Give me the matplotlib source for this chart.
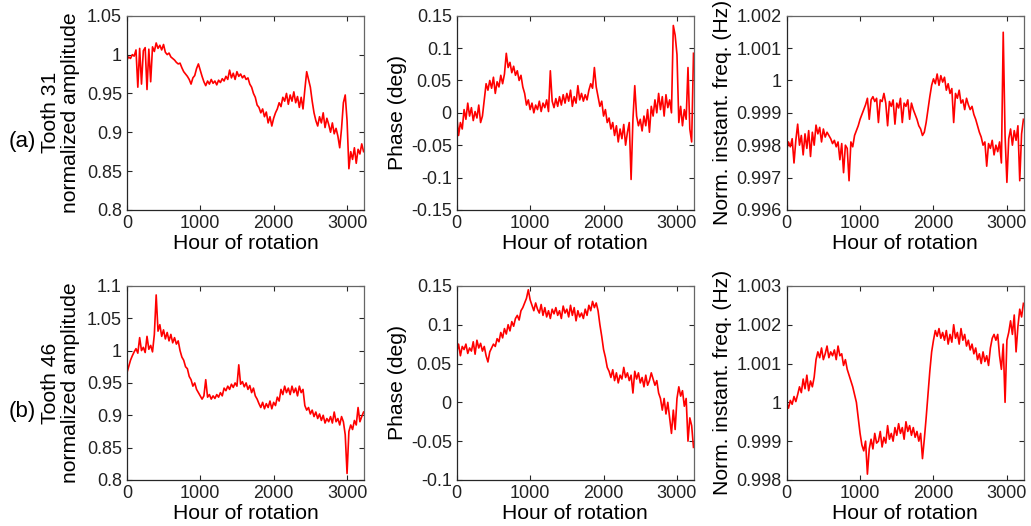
import numpy as np
import matplotlib
matplotlib.use("Agg")
import matplotlib.pyplot as plt
from matplotlib.ticker import FuncFormatter

plt.rcParams['font.family'] = ['Liberation Sans', 'DejaVu Sans']

# sample positions (hours), one value every 25 h
hours = np.arange(0, 3250, 25)

# (a) tooth 31
amp_31 = [0.993, 0.997, 0.995, 1.000, 0.998, 1.006, 0.958, 1.008, 0.962, 1.005,
          1.009, 0.955, 1.007, 0.965, 1.010, 1.004, 1.015, 1.008, 1.012, 1.006,
          1.013, 1.003, 1.000, 1.002, 0.997, 0.995, 0.993, 0.990, 0.988, 0.989,
          0.983, 0.978, 0.975, 0.972, 0.968, 0.962, 0.970, 0.973, 0.982, 0.988,
          0.980, 0.972, 0.965, 0.960, 0.966, 0.962, 0.968, 0.963, 0.966, 0.961,
          0.967, 0.964, 0.969, 0.966, 0.972, 0.968, 0.980, 0.970, 0.976, 0.968,
          0.978, 0.972, 0.975, 0.970, 0.973, 0.968, 0.970, 0.962, 0.958, 0.950,
          0.945, 0.935, 0.932, 0.925, 0.930, 0.920, 0.926, 0.912, 0.920, 0.908,
          0.918, 0.925, 0.930, 0.938, 0.933, 0.945, 0.940, 0.950, 0.936, 0.948,
          0.940, 0.952, 0.938, 0.946, 0.932, 0.945, 0.930, 0.955, 0.978, 0.968,
          0.958, 0.940, 0.925, 0.915, 0.908, 0.920, 0.912, 0.925, 0.906, 0.918,
          0.910, 0.900, 0.912, 0.898, 0.905, 0.895, 0.880, 0.905, 0.938, 0.948,
          0.915, 0.853, 0.875, 0.865, 0.880, 0.860, 0.878, 0.872, 0.885, 0.875]

phase_31 = [-0.005, -0.035, -0.015, -0.025, 0.005, -0.010, 0.015, -0.005, 0.008, -0.012,
            0.002, -0.008, 0.012, -0.015, -0.005, 0.020, 0.045, 0.035, 0.050, 0.038,
            0.055, 0.030, 0.048, 0.040, 0.058, 0.045, 0.060, 0.092, 0.070, 0.078,
            0.062, 0.072, 0.058, 0.065, 0.050, 0.058, 0.040, 0.030, 0.012, 0.020,
            0.005, 0.015, 0.000, 0.012, 0.005, 0.018, 0.002, 0.015, 0.008, 0.020,
            0.002, 0.065, 0.018, 0.008, 0.022, 0.010, 0.025, 0.012, 0.028, 0.015,
            0.030, 0.018, 0.035, 0.010, 0.025, 0.015, 0.042, 0.020, 0.030, 0.018,
            0.028, 0.020, 0.035, 0.045, 0.038, 0.070, 0.040, 0.025, 0.010, 0.018,
            -0.005, 0.005, -0.015, -0.008, -0.025, -0.015, -0.035, -0.020, -0.045, -0.025,
            -0.040, -0.018, -0.050, -0.030, -0.015, -0.103, -0.010, 0.042, -0.005, -0.020,
            -0.010, -0.028, -0.005, -0.020, 0.005, -0.030, 0.010, -0.005, 0.020, 0.000,
            0.030, 0.005, 0.025, -0.005, 0.028, 0.008, 0.020, 0.000, 0.135, 0.120,
            0.090, -0.015, 0.010, -0.020, 0.005, -0.010, 0.070, -0.025, -0.045, 0.092]

freq_31 = [0.99785, 0.99810, 0.99795, 0.99820, 0.99745, 0.99815, 0.99865, 0.99800, 0.99830, 0.99770,
           0.99835, 0.99790, 0.99845, 0.99765, 0.99840, 0.99800, 0.99862, 0.99835, 0.99855, 0.99810,
           0.99850, 0.99825, 0.99840, 0.99830, 0.99820, 0.99805, 0.99815, 0.99795, 0.99810, 0.99755,
           0.99805, 0.99715, 0.99800, 0.99790, 0.99690, 0.99810, 0.99795, 0.99830, 0.99845, 0.99860,
           0.99880, 0.99895, 0.99910, 0.99925, 0.99945, 0.99880, 0.99940, 0.99950, 0.99935, 0.99945,
           0.99870, 0.99940, 0.99935, 0.99960, 0.99930, 0.99860, 0.99935, 0.99920, 0.99940, 0.99865,
           0.99930, 0.99915, 0.99945, 0.99870, 0.99930, 0.99920, 0.99940, 0.99880, 0.99930, 0.99910,
           0.99895, 0.99880, 0.99860, 0.99850, 0.99830, 0.99840, 0.99870, 0.99910, 0.99950, 0.99985,
           1.00005, 0.99990, 1.00020, 0.99985, 1.00015, 0.99995, 1.00010, 0.99970, 0.99990, 0.99960,
           0.99975, 0.99870, 0.99960, 0.99945, 0.99970, 0.99930, 0.99940, 0.99910, 0.99945, 0.99925,
           0.99910, 0.99920, 0.99895, 0.99880, 0.99860, 0.99840, 0.99825, 0.99800, 0.99810, 0.99735,
           0.99805, 0.99790, 0.99815, 0.99770, 0.99800, 0.99780, 0.99810, 0.99745, 1.00149, 0.99830,
           0.99685, 0.99820, 0.99850, 0.99800, 0.99845, 0.99815, 0.99860, 0.99690, 0.99835, 0.99880]

# (b) tooth 46
amp_46 = [0.965, 0.975, 0.985, 0.992, 0.998, 1.003, 0.996, 1.020, 1.000, 1.005,
          0.997, 1.022, 1.002, 1.008, 0.998, 1.025, 1.086, 1.030, 1.040, 1.022,
          1.032, 1.018, 1.028, 1.015, 1.025, 1.012, 1.020, 1.010, 1.015, 1.000,
          0.990, 0.985, 0.975, 0.972, 0.960, 0.955, 0.945, 0.950, 0.940, 0.935,
          0.930, 0.925, 0.930, 0.955, 0.928, 0.932, 0.925, 0.930, 0.926, 0.932,
          0.928, 0.935, 0.930, 0.942, 0.938, 0.945, 0.940, 0.948, 0.943, 0.950,
          0.945, 0.978, 0.948, 0.952, 0.944, 0.950, 0.940, 0.946, 0.935, 0.942,
          0.930, 0.925, 0.918, 0.912, 0.920, 0.910, 0.918, 0.912, 0.922, 0.910,
          0.920, 0.915, 0.928, 0.922, 0.940, 0.932, 0.945, 0.935, 0.942, 0.932,
          0.945, 0.935, 0.942, 0.930, 0.945, 0.935, 0.940, 0.915, 0.908, 0.912,
          0.902, 0.908, 0.898, 0.905, 0.895, 0.902, 0.892, 0.900, 0.888, 0.895,
          0.890, 0.898, 0.888, 0.905, 0.890, 0.895, 0.885, 0.898, 0.890, 0.870,
          0.810, 0.875, 0.885, 0.878, 0.892, 0.885, 0.912, 0.890, 0.898, 0.905]

phase_46 = [0.065, 0.075, 0.060, 0.072, 0.068, 0.075, 0.063, 0.070, 0.066, 0.078,
            0.062, 0.080, 0.070, 0.076, 0.066, 0.072, 0.060, 0.052, 0.065, 0.070,
            0.075, 0.072, 0.082, 0.078, 0.090, 0.083, 0.095, 0.088, 0.100, 0.092,
            0.104, 0.098, 0.108, 0.112, 0.106, 0.118, 0.122, 0.128, 0.134, 0.145,
            0.132, 0.125, 0.118, 0.128, 0.120, 0.115, 0.126, 0.112, 0.122, 0.110,
            0.118, 0.108, 0.120, 0.114, 0.122, 0.112, 0.118, 0.108, 0.124, 0.115,
            0.120, 0.110, 0.125, 0.112, 0.122, 0.105, 0.118, 0.110, 0.115, 0.108,
            0.120, 0.112, 0.125, 0.118, 0.130, 0.122, 0.128, 0.118, 0.100, 0.085,
            0.068, 0.058, 0.045, 0.040, 0.032, 0.042, 0.028, 0.038, 0.025, 0.035,
            0.030, 0.045, 0.032, 0.038, 0.028, 0.035, 0.012, 0.040, 0.030, 0.038,
            0.025, 0.032, 0.020, 0.035, 0.022, 0.028, 0.038, 0.030, 0.022, 0.028,
            0.012, 0.005, -0.010, 0.005, -0.015, 0.000, -0.020, -0.040, -0.010, -0.035,
            0.005, 0.020, 0.008, 0.015, -0.005, 0.005, -0.050, -0.020, -0.030, -0.058]

freq_46 = [0.99998, 0.99985, 1.00005, 0.99995, 1.00015, 1.00002, 1.00020, 1.00040, 1.00025, 1.00060,
           1.00035, 1.00070, 1.00030, 1.00055, 1.00040, 1.00065, 1.00110, 1.00130, 1.00115, 1.00140,
           1.00110, 1.00125, 1.00145, 1.00115, 1.00130, 1.00120, 1.00135, 1.00110, 1.00145, 1.00120,
           1.00125, 1.00095, 1.00110, 1.00085, 1.00070, 1.00055, 1.00040, 1.00020, 1.00000, 0.99960,
           0.99920, 0.99890, 0.99875, 0.99900, 0.99815, 0.99880, 0.99905, 0.99880, 0.99920, 0.99895,
           0.99900, 0.99925, 0.99885, 0.99910, 0.99895, 0.99940, 0.99905, 0.99920, 0.99900, 0.99935,
           0.99915, 0.99945, 0.99920, 0.99935, 0.99905, 0.99950, 0.99925, 0.99940, 0.99915, 0.99935,
           0.99910, 0.99925, 0.99900, 0.99920, 0.99855, 0.99905, 0.99960, 1.00020, 1.00080, 1.00130,
           1.00160, 1.00185, 1.00170, 1.00190, 1.00165, 1.00180, 1.00160, 1.00185, 1.00150, 1.00175,
           1.00155, 1.00200, 1.00165, 1.00180, 1.00150, 1.00190, 1.00160, 1.00175, 1.00145, 1.00160,
           1.00135, 1.00150, 1.00125, 1.00140, 1.00110, 1.00125, 1.00100, 1.00130, 1.00105, 1.00120,
           1.00095, 1.00140, 1.00165, 1.00175, 1.00160, 1.00175, 1.00120, 1.00085, 1.00150, 1.00000,
           1.00160, 1.00180, 1.00210, 1.00175, 1.00225, 1.00130, 1.00195, 1.00240, 1.00220, 1.00255]

row_tags = ["(a)", "(b)"]
teeth = ["Tooth 31", "Tooth 46"]
amp_lims = [(0.8, 1.05, 0.05), (0.8, 1.1, 0.05)]
phase_lims = [(-0.15, 0.15, 0.05), (-0.1, 0.15, 0.05)]
freq_lims = [(0.996, 1.002, 0.001), (0.998, 1.003, 0.001)]

fig = plt.figure(figsize=(10.31, 5.26), dpi=100)

lefts = [0.123, 0.443, 0.763]
bottoms = [0.601, 0.0875]
w, h = 0.230, 0.369
ylab_x = [-0.198, -0.21, -0.231]

fmt = FuncFormatter(lambda v, p: "%g" % round(v, 6))

rows = [[amp_31, phase_31, freq_31], [amp_46, phase_46, freq_46]]
lims = [[amp_lims[0], phase_lims[0], freq_lims[0]], [amp_lims[1], phase_lims[1], freq_lims[1]]]

for r in range(2):
    for c in range(3):
        ax = fig.add_axes([lefts[c], bottoms[r], w, h])
        ax.plot(hours, rows[r][c], color="#ff0000", lw=1.2)
        lo, hi, st = lims[r][c]
        ax.set_xlim(0, 3230)
        ax.set_ylim(lo, hi)
        ax.set_xticks([0, 1000, 2000, 3000])
        ax.set_yticks(np.round(np.arange(lo, hi + st / 2, st), 6))
        ax.yaxis.set_major_formatter(fmt)
        ax.tick_params(direction="in", length=3.5, width=0.8, labelsize=13,
                       colors="#262626", labelcolor="#222222", pad=3.5,
                       top=True, right=True)
        for s in ax.spines.values():
            s.set_color("#262626")
            s.set_linewidth(0.9)
        ax.spines["top"].set_color("#666666")
        ax.spines["right"].set_color("#666666")
        ax.set_xlabel("Hour of rotation", fontsize=15.2)
        ax.xaxis.set_label_coords(0.5, -0.122)
        if c == 0:
            ax.set_ylabel(teeth[r] + "\nnormalized amplitude", fontsize=15.2,
                          linespacing=1.05)
        elif c == 1:
            ax.set_ylabel("Phase (deg)", fontsize=15.2)
        else:
            ax.set_ylabel("Norm. instant. freq. (Hz)", fontsize=15.2)
        ax.yaxis.set_label_coords(ylab_x[c], 0.5)

fig.text(0.008, 0.731, row_tags[0], fontsize=16, va="center", ha="left")
fig.text(0.008, 0.217, row_tags[1], fontsize=16, va="center", ha="left")

fig.savefig("out.png", dpi=100)
